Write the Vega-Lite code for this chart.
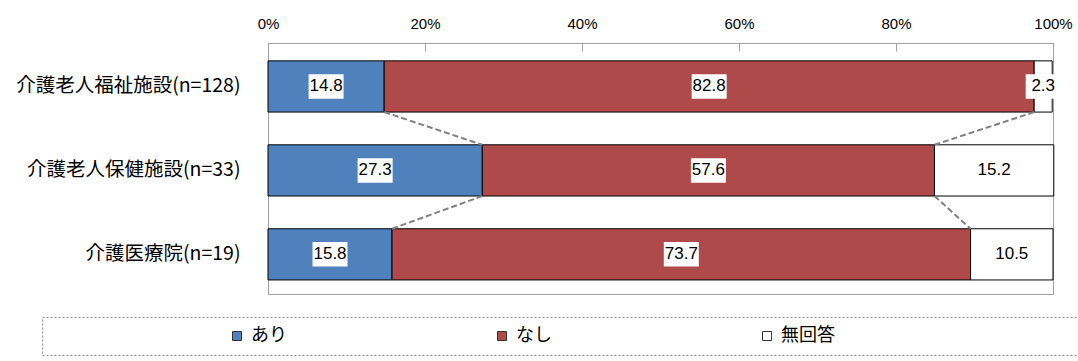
{
  "$schema": "https://vega.github.io/schema/vega-lite/v6.json",
  "width": 785,
  "height": 251,
  "autosize": {"type": "none"},
  "padding": {"left": 268, "top": 43, "right": 25, "bottom": 67},
  "config": {
    "font": "Noto Sans CJK JP",
    "view": {"stroke": "#A0A0A0", "strokeWidth": 1}
  },
  "datasets": {
    "bars": [
      {"施設": "介護老人福祉施設(n=128)", "回答": "あり", "割合": 14.8},
      {"施設": "介護老人福祉施設(n=128)", "回答": "なし", "割合": 82.8},
      {"施設": "介護老人福祉施設(n=128)", "回答": "無回答", "割合": 2.3},
      {"施設": "介護老人保健施設(n=33)", "回答": "あり", "割合": 27.3},
      {"施設": "介護老人保健施設(n=33)", "回答": "なし", "割合": 57.6},
      {"施設": "介護老人保健施設(n=33)", "回答": "無回答", "割合": 15.2},
      {"施設": "介護医療院(n=19)", "回答": "あり", "割合": 15.8},
      {"施設": "介護医療院(n=19)", "回答": "なし", "割合": 73.7},
      {"施設": "介護医療院(n=19)", "回答": "無回答", "割合": 10.5}
    ],
    "links": [
      {"上": "介護老人福祉施設(n=128)", "下": "介護老人保健施設(n=33)", "上端": 14.8, "下端": 27.3},
      {"上": "介護老人福祉施設(n=128)", "下": "介護老人保健施設(n=33)", "上端": 97.6, "下端": 84.9},
      {"上": "介護老人保健施設(n=33)", "下": "介護医療院(n=19)", "上端": 27.3, "下端": 15.8},
      {"上": "介護老人保健施設(n=33)", "下": "介護医療院(n=19)", "上端": 84.9, "下端": 89.5}
    ]
  },
  "layer": [
    {
      "data": {"name": "bars"},
      "mark": {"type": "bar", "stroke": "#000000", "strokeWidth": 1},
      "encoding": {
        "y": {
          "field": "施設", "type": "nominal",
          "scale": {"domain": ["介護老人福祉施設(n=128)", "介護老人保健施設(n=33)", "介護医療院(n=19)"], "paddingInner": 0.39, "paddingOuter": 0.19, "align": 0.56},
          "axis": {"title": null, "domain": false, "ticks": false, "labelFontSize": 19.5, "labelColor": "#000000", "labelPadding": 28, "labelLimit": 300}
        },
        "x": {
          "field": "割合", "type": "quantitative", "stack": true,
          "scale": {"domain": [0, 100], "nice": false},
          "axis": {
            "orient": "top", "title": null, "values": [0, 20, 40, 60, 80, 100],
            "labelExpr": "datum.value + '%'", "labelFlush": false,
            "labelFontSize": 15, "labelColor": "#000000", "labelFont": "Liberation Sans",
            "domainColor": "#A0A0A0", "tickColor": "#A0A0A0", "tickSize": -8, "labelPadding": 20, "grid": false
          }
        },
        "color": {
          "field": "回答", "type": "nominal",
          "scale": {"domain": ["あり", "なし", "無回答"], "range": ["#4F81BD", "#B04A4A", "#FFFFFF"]},
          "legend": {
            "title": " ", "titleOrient": "right", "titlePadding": 233,
            "orient": "none", "legendX": -226, "legendY": 274, "direction": "horizontal",
            "symbolType": "square", "symbolSize": 81, "symbolStrokeColor": "#333333", "symbolStrokeWidth": 1,
            "labelFontSize": 18, "labelColor": "#000000", "labelOffset": 5,
            "symbolOffset": 176, "columnPadding": 30,
            "strokeColor": "#8C8C8C", "padding": 10,
            "encode": {"legend": {"update": {"strokeDash": {"value": [2, 2]}}}}
          }
        },
        "order": {"field": "回答", "sort": "ascending"}
      }
    },
    {
      "data": {"name": "links"},
      "mark": {"type": "rule", "stroke": "#808080", "strokeWidth": 2, "strokeDash": [6, 3]},
      "encoding": {
        "y": {"field": "上", "type": "nominal", "bandPosition": 1},
        "y2": {"field": "下", "bandPosition": 0},
        "x": {"field": "上端", "type": "quantitative"},
        "x2": {"field": "下端"}
      }
    },
    {
      "data": {"name": "bars"},
      "transform": [
        {"stack": "割合", "groupby": ["施設"], "sort": [{"field": "回答", "order": "ascending"}], "as": ["x0", "x1"]},
        {"calculate": "(datum.x0 + datum.x1) / 2", "as": "mid"}
      ],
      "layer": [
        {
          "mark": {"type": "point", "shape": "M-1,-0.7H1V0.7H-1Z", "size": 1225, "filled": true, "fill": "#FFFFFF", "opacity": 1, "strokeWidth": 0},
          "encoding": {
            "y": {"field": "施設", "type": "nominal"},
            "x": {"field": "mid", "type": "quantitative"}
          }
        },
        {
          "mark": {"type": "text", "fontSize": 17, "color": "#000000", "font": "Liberation Sans"},
          "encoding": {
            "y": {"field": "施設", "type": "nominal"},
            "x": {"field": "mid", "type": "quantitative"},
            "text": {"field": "割合", "type": "quantitative", "format": ".1f"}
          }
        }
      ]
    }
  ]
}
